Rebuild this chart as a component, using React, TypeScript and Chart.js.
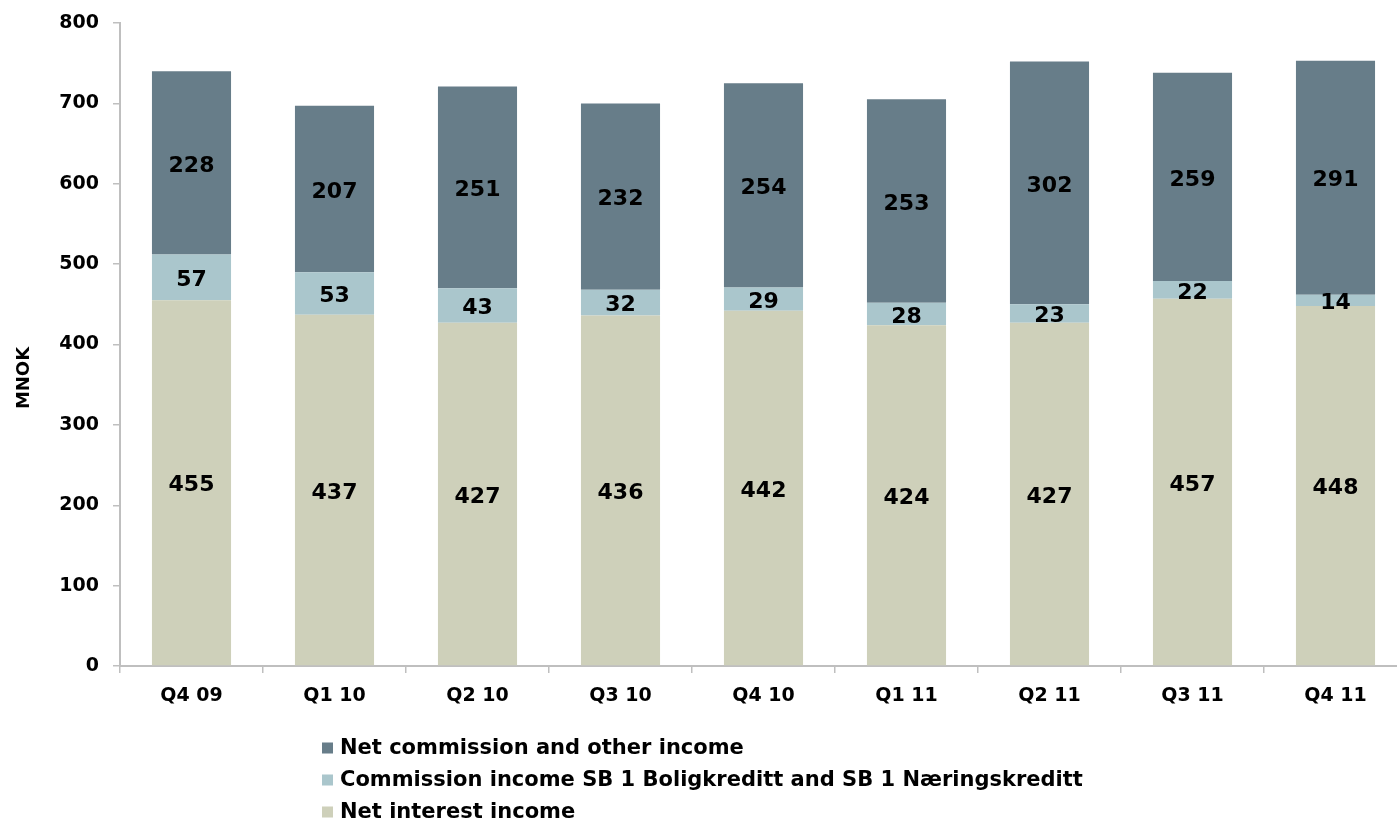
import React, { useEffect, useRef } from "react";
import { Chart, registerables } from "chart.js";

Chart.register(...registerables);

const categories = ["Q4 09", "Q1 10", "Q2 10", "Q3 10", "Q4 10", "Q1 11", "Q2 11", "Q3 11", "Q4 11"];
const netInterestIncome = [455, 437, 427, 436, 442, 424, 427, 457, 448];
const commissionBoligNaering = [57, 53, 43, 32, 29, 28, 23, 22, 14];
const netCommissionOther = [228, 207, 251, 232, 254, 253, 302, 259, 291];
const yTicks = [0, 100, 200, 300, 400, 500, 600, 700, 800];

const seriesNames = [
  "Net interest income",
  "Commission income SB 1 Boligkreditt and SB 1 Næringskreditt",
  "Net commission and other income",
];
const seriesColors = ["#CED0BA", "#AAC6CC", "#677D89"];

const FONT = "'DejaVu Sans', Verdana, sans-serif";
const AXIS_GREY = "#BFBFBF";

// Value labels centred inside every stacked segment
const segmentLabels = {
  id: "segmentLabels",
  afterDatasetsDraw(chart: any) {
    const ctx = chart.ctx;
    ctx.save();
    ctx.font = `bold 22px ${FONT}`;
    ctx.fillStyle = "#000";
    ctx.textAlign = "center";
    ctx.textBaseline = "middle";
    chart.data.datasets.forEach((ds: any, di: number) => {
      const meta = chart.getDatasetMeta(di);
      meta.data.forEach((bar: any, i: number) => {
        const y = (bar.y + bar.base) / 2;
        ctx.fillText(String(ds.data[i]), bar.x, y + 3);
      });
    });
    ctx.restore();
  },
};

// Rotated axis title and the stacked legend underneath the plot
const extras = {
  id: "extras",
  afterDraw(chart: any) {
    const ctx = chart.ctx;
    ctx.save();
    ctx.fillStyle = "#000";
    ctx.font = `bold 18px ${FONT}`;
    ctx.translate(24, 378);
    ctx.rotate(-Math.PI / 2);
    ctx.textAlign = "center";
    ctx.textBaseline = "middle";
    ctx.fillText("MNOK", 0, 0);
    ctx.restore();

    ctx.save();
    ctx.font = `bold 21px ${FONT}`;
    ctx.textAlign = "left";
    ctx.textBaseline = "middle";
    const rows = [2, 1, 0];
    rows.forEach((si, r) => {
      const cy = 748 + r * 32;
      ctx.fillStyle = seriesColors[si];
      ctx.fillRect(322, cy - 5.5, 11, 11);
      ctx.fillStyle = "#000";
      ctx.fillText(seriesNames[si], 340, cy + 1);
    });
    ctx.restore();
  },
};

export default function App() {
  const canvasRef = useRef<HTMLCanvasElement | null>(null);

  useEffect(() => {
    const canvas = canvasRef.current;
    if (!canvas) return;
    const seriesData = [netInterestIncome, commissionBoligNaering, netCommissionOther];
    const chart = new Chart(canvas, {
      type: "bar",
      data: {
        labels: categories,
        datasets: seriesData.map((d, i) => ({
          label: seriesNames[i],
          data: d,
          backgroundColor: seriesColors[i],
          borderWidth: 0,
          barPercentage: 0.553,
          categoryPercentage: 1,
        })),
      },
      options: {
        responsive: false,
        animation: false,
        devicePixelRatio: 1,
        layout: { padding: { top: 23, right: 10, left: 0, bottom: 0 } },
        plugins: {
          legend: { display: false },
          tooltip: { enabled: false },
        },
        scales: {
          x: {
            stacked: true,
            offset: true,
            border: { color: AXIS_GREY, width: 2 },
            grid: {
              offset: true,
              drawOnChartArea: false,
              color: AXIS_GREY,
              lineWidth: 1.5,
              tickLength: 7,
            },
            ticks: {
              color: "#000",
              font: { family: FONT, size: 19, weight: "bold" },
              padding: 12,
              maxRotation: 0,
            },
            afterFit(scale: any) {
              scale.height = 158;
              scale.paddingLeft = 0;
              scale.paddingRight = 0;
            },
          },
          y: {
            stacked: true,
            min: 0,
            max: 800,
            border: { color: AXIS_GREY, width: 2 },
            grid: {
              drawOnChartArea: false,
              color: AXIS_GREY,
              lineWidth: 1.5,
              tickLength: 7,
            },
            afterBuildTicks(scale: any) {
              scale.ticks = yTicks.map((v) => ({ value: v }));
            },
            ticks: {
              color: "#000",
              font: { family: FONT, size: 19, weight: "bold" },
              padding: 14,
            },
            afterFit(scale: any) {
              scale.width = 120;
              scale.paddingTop = 0;
              scale.paddingBottom = 0;
            },
          },
        },
      },
      plugins: [segmentLabels, extras],
    } as any);
    return () => chart.destroy();
  }, []);

  return (
    <div
      style={{
        position: "fixed",
        left: 0,
        top: 0,
        width: 1397,
        height: 824,
        overflow: "hidden",
        background: "#fff",
      }}
    >
      <canvas ref={canvasRef} width={1417} height={824} style={{ display: "block" }} />
    </div>
  );
}
